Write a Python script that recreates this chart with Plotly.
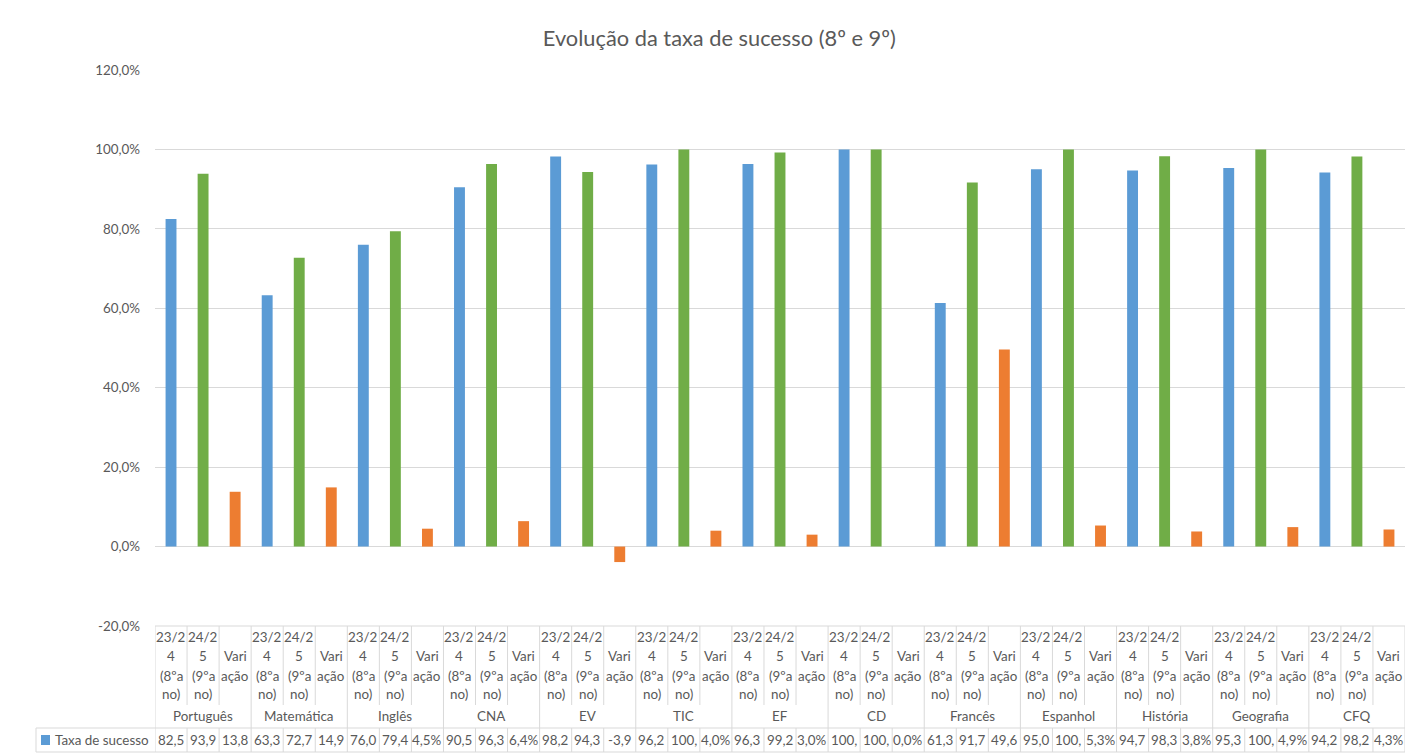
import plotly.graph_objs as go

# data (Taxa de sucesso, %)
disciplinas = ['Português', 'Matemática', 'Inglês', 'CNA', 'EV', 'TIC', 'EF', 'CD',
               'Francês', 'Espanhol', 'História', 'Geografia', 'CFQ']
ano_2324 = [82.5, 63.3, 76.0, 90.5, 98.2, 96.2, 96.3, 100.0, 61.3, 95.0, 94.7, 95.3, 94.2]
ano_2425 = [93.9, 72.7, 79.4, 96.3, 94.3, 100.0, 99.2, 100.0, 91.7, 100.0, 98.3, 100.0, 98.2]
variacao = [13.8, 14.9, 4.5, 6.4, -3.9, 4.0, 3.0, 0.0, 49.6, 5.3, 3.8, 4.9, 4.3]

# category labels, wrapped the way the data table shows them
periodos = [['23/2', '4', '(8ºa', 'no)'],
            ['24/2', '5', '(9ºa', 'no)'],
            ['', 'Vari', 'ação', '']]
serie = 'Taxa de sucesso'
cores = ['#5B9BD5', '#70AD47', '#ED7D31']
y_ticks = [-20, 0, 20, 40, 60, 80, 100, 120]

W, H = 1416, 753
L, R, T, B = 155, 11, 70, 127
PW, PH = W - L - R, H - T - B
GRID = '#D9D9D9'
TXT = '#595959'
FONT = 'Lato, Carlito, Open Sans, sans-serif'
FS = 13.4


def yp(py):
    return (H - B - py) / PH


def xp(px):
    return (px - L) / PW


def pct(v):
    return f'{v:.1f}%'.replace('.', ',')


xs, ys, cols, labels = [], [], [], []
for i, d in enumerate(disciplinas):
    for j, v in enumerate([ano_2324[i], ano_2425[i], variacao[i]]):
        xs.append(i * 3 + j)
        ys.append(v)
        cols.append(cores[j])
        labels.append(d)

n = len(xs)

fig = go.Figure(go.Bar(x=xs, y=ys, marker=dict(color=cols, line=dict(width=0)),
                       name=serie, hovertext=labels, showlegend=False))

ann = []
shapes = []
# sub labels (periods)
line_y = [637, 656, 676, 694]
for k in range(n):
    for li, t in enumerate(periodos[k % 3]):
        if t:
            ann.append(dict(x=k, y=yp(line_y[li]), xref='x', yref='paper', text=t,
                            showarrow=False, font=dict(size=FS, color=TXT, family=FONT),
                            xanchor='center', yanchor='middle'))
    # the data table cuts the values to the cell width
    ann.append(dict(x=k, y=yp(740), xref='x', yref='paper', text=pct(ys[k])[:4], showarrow=False,
                    font=dict(size=FS, color=TXT, family=FONT), xanchor='center', yanchor='middle'))
for i, d in enumerate(disciplinas):
    ann.append(dict(x=i * 3 + 1, y=yp(716), xref='x', yref='paper', text=d, showarrow=False,
                    font=dict(size=FS, color=TXT, family=FONT), xanchor='center', yanchor='middle'))
ann.append(dict(x=xp(53), y=yp(740), xref='paper', yref='paper', text=serie, showarrow=False,
                font=dict(size=FS, color=TXT, family=FONT), xanchor='left', yanchor='middle'))

lw = dict(color=GRID, width=1)
for k in range(n + 1):
    xb = k - 0.5
    if k % 3 == 0:
        shapes.append(dict(type='line', xref='x', yref='paper', x0=xb, x1=xb,
                           y0=yp(626), y1=yp(752), line=lw))
    else:
        shapes.append(dict(type='line', xref='x', yref='paper', x0=xb, x1=xb,
                           y0=yp(626), y1=yp(705), line=lw))
        shapes.append(dict(type='line', xref='x', yref='paper', x0=xb, x1=xb,
                           y0=yp(728), y1=yp(752), line=lw))
shapes.append(dict(type='line', xref='x', yref='paper', x0=-0.5, x1=n - 0.5,
                   y0=yp(626), y1=yp(626), line=lw))
for py in (728, 752):
    shapes.append(dict(type='line', xref='paper', yref='paper', x0=xp(36), x1=1,
                       y0=yp(py), y1=yp(py), line=lw))
shapes.append(dict(type='line', xref='paper', yref='paper', x0=xp(36), x1=xp(36),
                   y0=yp(728), y1=yp(752), line=lw))
shapes.append(dict(type='rect', xref='paper', yref='paper', x0=xp(41), x1=xp(50),
                   y0=yp(735), y1=yp(745), fillcolor=cores[0], line=dict(width=0)))

fig.update_layout(
    width=W, height=H,
    margin=dict(l=L, r=R, t=T, b=B),
    paper_bgcolor='white', plot_bgcolor='white',
    separators=',.',
    bargap=0.66,
    title=dict(text='Evolução da taxa de sucesso (8º e 9º)', x=0.508, xanchor='center',
               y=1 - 38 / H, yanchor='middle', font=dict(size=21.8, color=TXT, family=FONT)),
    xaxis=dict(range=[-0.5, n - 0.5], showticklabels=False, showgrid=False,
               zeroline=False, showline=False),
    yaxis=dict(range=[-20, 120], tickvals=y_ticks, ticktext=[pct(v) for v in y_ticks],
               gridcolor=GRID, zeroline=False, showline=False, ticklabelstandoff=14,
               tickfont=dict(size=13.4, color=TXT, family=FONT)),
    annotations=ann, shapes=shapes,
)

fig.write_html('out.html', config={'displayModeBar': False},
               post_script="document.body.style.margin='0';")
